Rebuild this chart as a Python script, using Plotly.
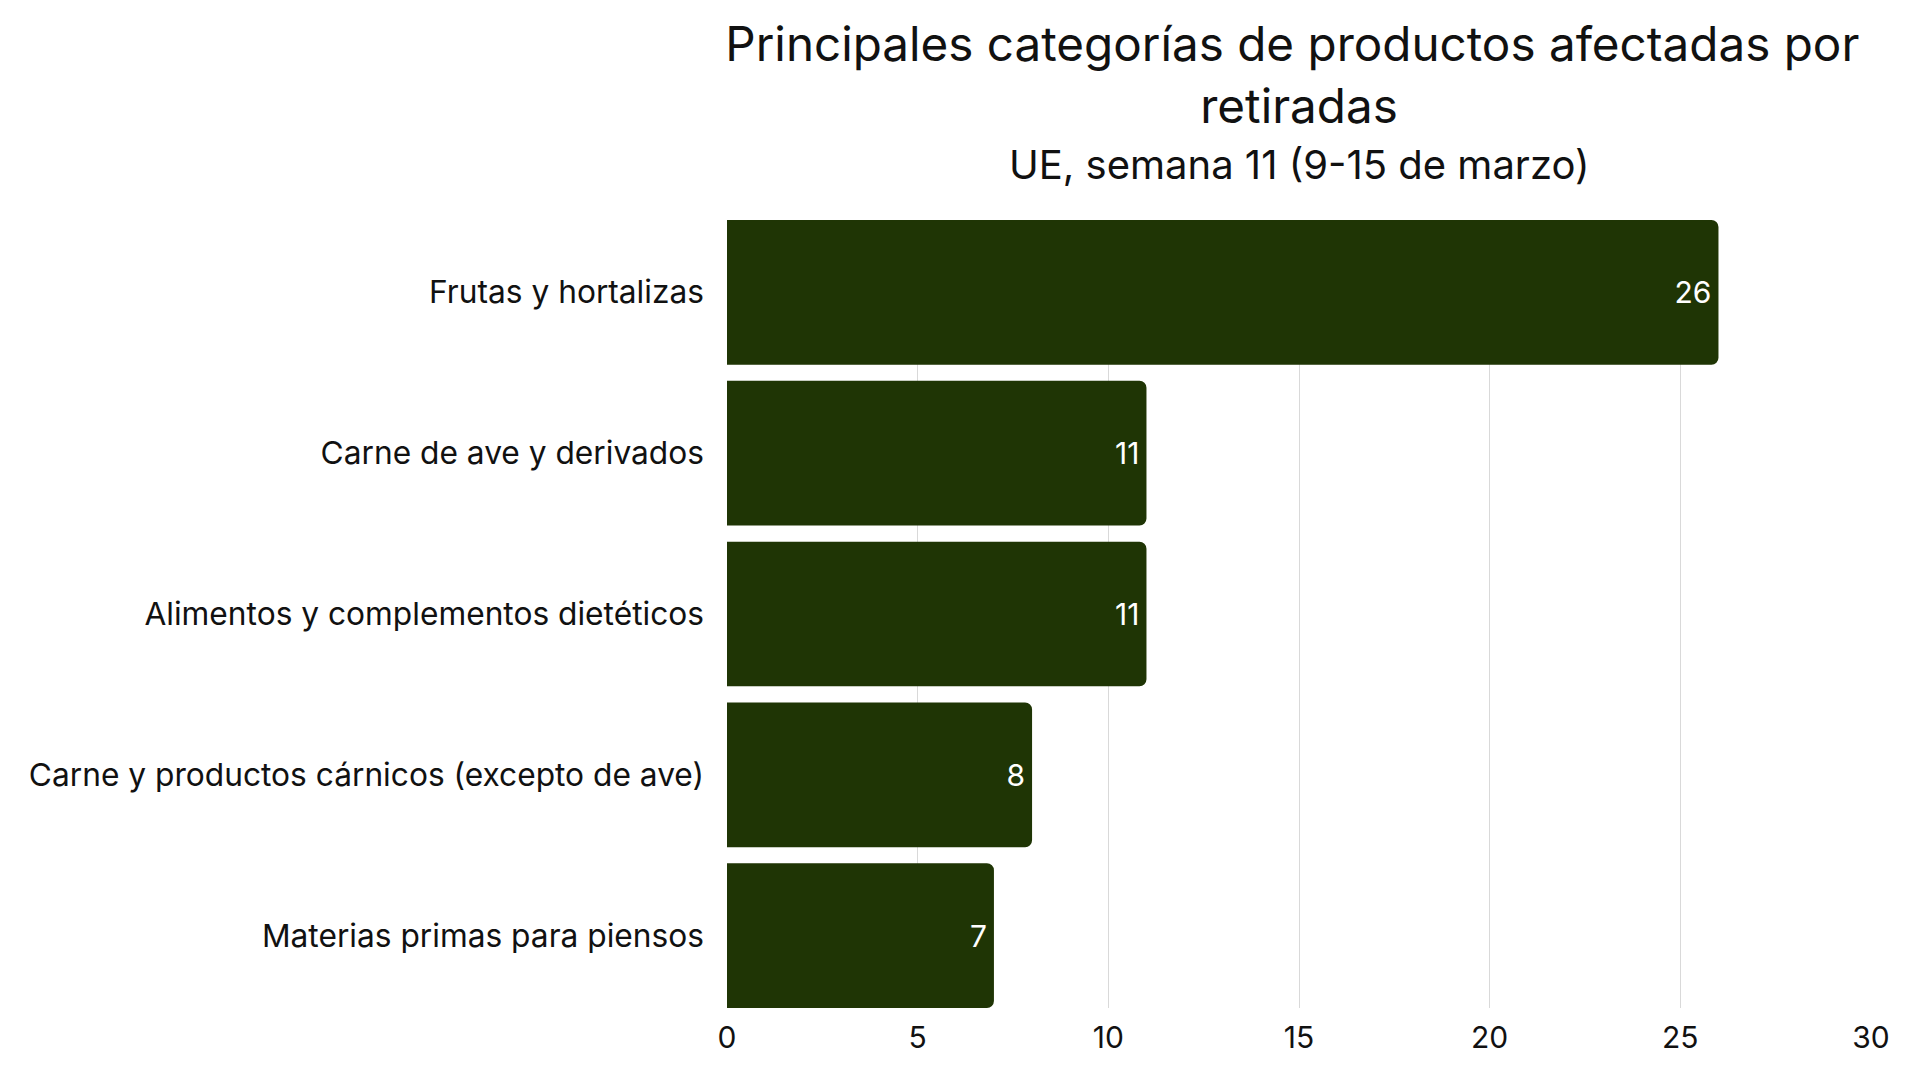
import plotly.graph_objects as go

categories = [
    "Frutas y hortalizas",
    "Carne de ave y derivados",
    "Alimentos y complementos dietéticos",
    "Carne y productos cárnicos (excepto de ave)",
    "Materias primas para piensos",
]
values = [26, 11, 11, 8, 7]
x_ticks = [0, 5, 10, 15, 20, 25, 30]

title_text = "Principales categorías de productos afectadas por\u00a0<br>retiradas"
subtitle_text = "UE, semana 11 (9-15 de marzo)"

FONT = "Inter, 'Noto Sans', sans-serif"
BAR_COLOR = "#1f3505"

fig = go.Figure(
    go.Bar(
        x=values,
        y=categories,
        orientation="h",
        marker=dict(color=BAR_COLOR, line=dict(width=0)),
        text=[str(v) for v in values],
        textposition="inside",
        insidetextanchor="end",
        textfont=dict(color="white", size=30, family=FONT),
        hoverinfo="skip",
    )
)

fig.update_layout(
    width=1920,
    height=1080,
    paper_bgcolor="white",
    plot_bgcolor="white",
    font=dict(family=FONT, color="#111111", size=30),
    margin=dict(l=727, r=49, t=220, b=72, autoexpand=False),
    bargap=0.1,
    barcornerradius=7,
    showlegend=False,
    title=dict(
        text=title_text,
        x=0.5,
        xref="paper",
        xanchor="center",
        y=1 - 61 / 1080,
        yref="container",
        yanchor="middle",
        font=dict(size=47.6, family=FONT, color="#111111"),
    ),
    annotations=[
        dict(
            text=subtitle_text,
            x=0.5,
            xref="paper",
            xanchor="center",
            y=(1008 - 164) / 788,
            yref="paper",
            yanchor="middle",
            showarrow=False,
            font=dict(size=40, family=FONT, color="#111111"),
        )
    ],
    xaxis=dict(
        range=[0, 30],
        tickvals=x_ticks,
        ticktext=[str(t) for t in x_ticks],
        showgrid=True,
        gridcolor="#d9d9d9",
        gridwidth=1,
        zeroline=False,
        showline=False,
        ticks="",
        tickfont=dict(size=30, family=FONT, color="#111111"),
        ticklabelstandoff=9,
        fixedrange=True,
    ),
    yaxis=dict(
        categoryorder="array",
        categoryarray=categories,
        range=[4.45, -0.45],
        showgrid=False,
        zeroline=False,
        showline=False,
        ticks="",
        ticklabelstandoff=22,
        tickfont=dict(size=31.7, family=FONT, color="#111111"),
        fixedrange=True,
    ),
)

fig.write_html("out.html")
